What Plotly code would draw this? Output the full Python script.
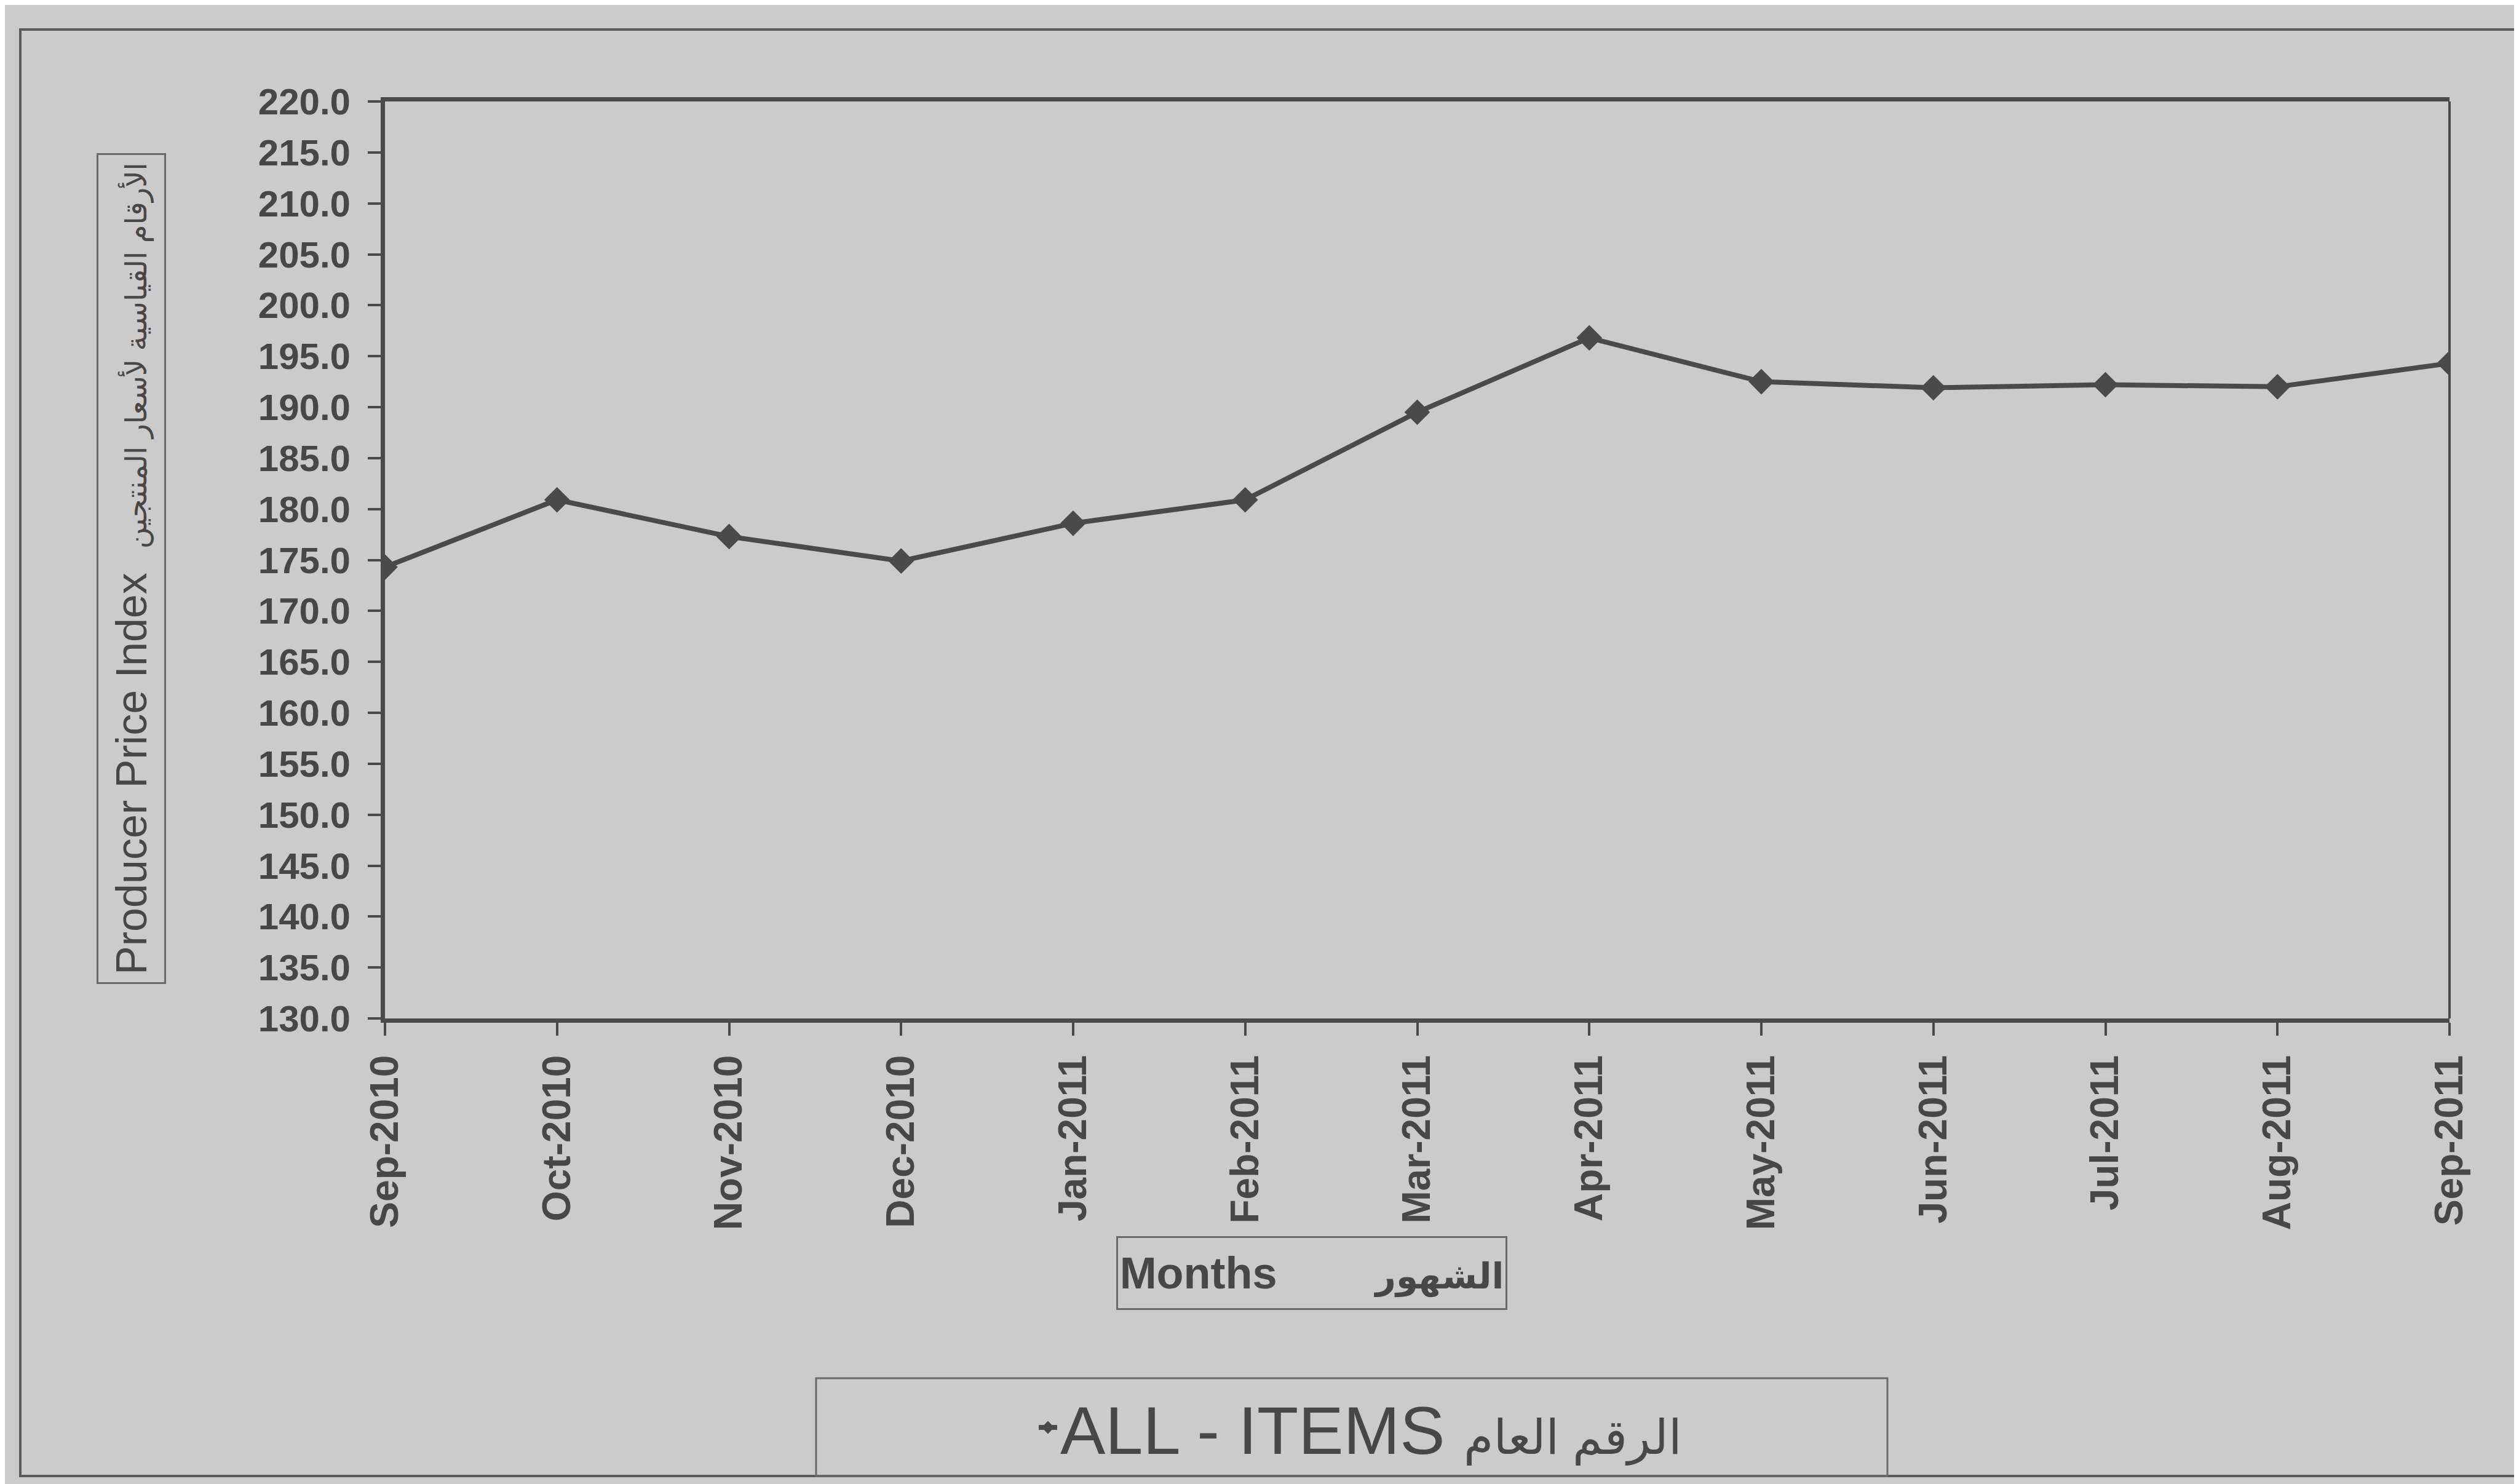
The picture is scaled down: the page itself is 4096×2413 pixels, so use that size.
import plotly.graph_objects as go

months = ["Sep-2010", "Oct-2010", "Nov-2010", "Dec-2010", "Jan-2011", "Feb-2011",
          "Mar-2011", "Apr-2011", "May-2011", "Jun-2011", "Jul-2011", "Aug-2011", "Sep-2011"]
ppi_all_items = [174.3, 180.9, 177.3, 174.9, 178.6, 180.9,
                 189.5, 196.8, 192.5, 191.9, 192.2, 192.0, 194.3]
y_ticks = [130 + 5 * i for i in range(19)]
y_tick_labels = [f"{v:.1f}" for v in y_ticks]

W, H = 4096, 2413
L, R, T, B = 618, 121, 157, 765
PW, PH = W - L - R, H - T - B

def px(x):
    return (x - L) / PW

def py(y):
    return (H - B - y) / PH

BG = "#cbcbcb"
INK = "#4a4a4a"
TXT = "#474747"
FONT = "Liberation Sans, Arial, DejaVu Sans, sans-serif"

fig = go.Figure()
fig.add_trace(go.Scatter(
    x=list(range(len(months))), y=ppi_all_items, mode="lines+markers",
    name="ALL - ITEMS <span style='font-size:78px'>الرقم العام</span>",
    line=dict(color=INK, width=8),
    marker=dict(symbol="diamond", size=32, color=INK),
))

fig.update_layout(
    width=W, height=H,
    margin=dict(l=L, r=R, t=T, b=B),
    paper_bgcolor=BG, plot_bgcolor=BG,
    font=dict(family=FONT, color=TXT),
    showlegend=True,
    legend=dict(
        x=px(1676), y=py(2313), xanchor="left", yanchor="middle",
        font=dict(size=110, color=TXT, family=FONT),
        bgcolor="rgba(0,0,0,0)", borderwidth=0,
    ),
    xaxis=dict(
        range=[0, len(months) - 1],
        tickmode="array", tickvals=list(range(len(months))), ticktext=months,
        tickangle=-90, tickfont=dict(size=64, color=TXT, family=FONT, weight="bold"),
        ticks="outside", ticklen=21, tickwidth=4, tickcolor=INK,
        showline=True, linecolor=INK, linewidth=7, mirror=True,
        showgrid=False, zeroline=False, ticklabelstandoff=6,
    ),
    yaxis=dict(
        range=[130, 220],
        tickmode="array", tickvals=y_ticks, ticktext=y_tick_labels,
        tickfont=dict(size=60, color=TXT, family=FONT, weight="bold"),
        ticks="outside", ticklen=21, tickwidth=4, tickcolor=INK,
        showline=True, linecolor=INK, linewidth=7,
        showgrid=False, zeroline=False, ticklabelstandoff=16,
    ),
    shapes=[
        # right border of plot area
        dict(type="line", xref="paper", yref="paper", x0=1, x1=1, y0=0, y1=1,
             line=dict(color=INK, width=4)),
        # outer chart frame
        dict(type="rect", xref="paper", yref="paper",
             x0=px(25), x1=px(4089), y0=py(2392), y1=py(40),
             line=dict(color="#5a5a5a", width=4)),
        # legend box
        dict(type="rect", xref="paper", yref="paper",
             x0=px(1319), x1=px(3061), y0=py(2392), y1=py(2233),
             line=dict(color="#6a6a6a", width=3)),
    ],
    annotations=[
        dict(text="Producer Price Index\u00a0\u00a0<span style='font-size:48px'>الأرقام القياسية لأسعار المنتجين</span>",
             xref="paper", yref="paper", x=px(206), y=py(917),
             xanchor="center", yanchor="middle", textangle=-90, showarrow=False,
             font=dict(size=70, color=TXT, family=FONT),
             bordercolor="#6a6a6a", borderwidth=3, borderpad=0,
             width=1345, height=107),
        dict(text="Months" + "\u00a0" * 8 + "<span style='font-size:58px'>الشهور</span>",
             xref="paper", yref="paper", x=px(2125), y=py(2062),
             xanchor="center", yanchor="middle", showarrow=False,
             font=dict(size=72, color=TXT, family=FONT, weight="bold"),
             bordercolor="#6a6a6a", borderwidth=3, borderpad=0,
             width=630, height=114),
    ],
)

fig.write_html("out.html")
